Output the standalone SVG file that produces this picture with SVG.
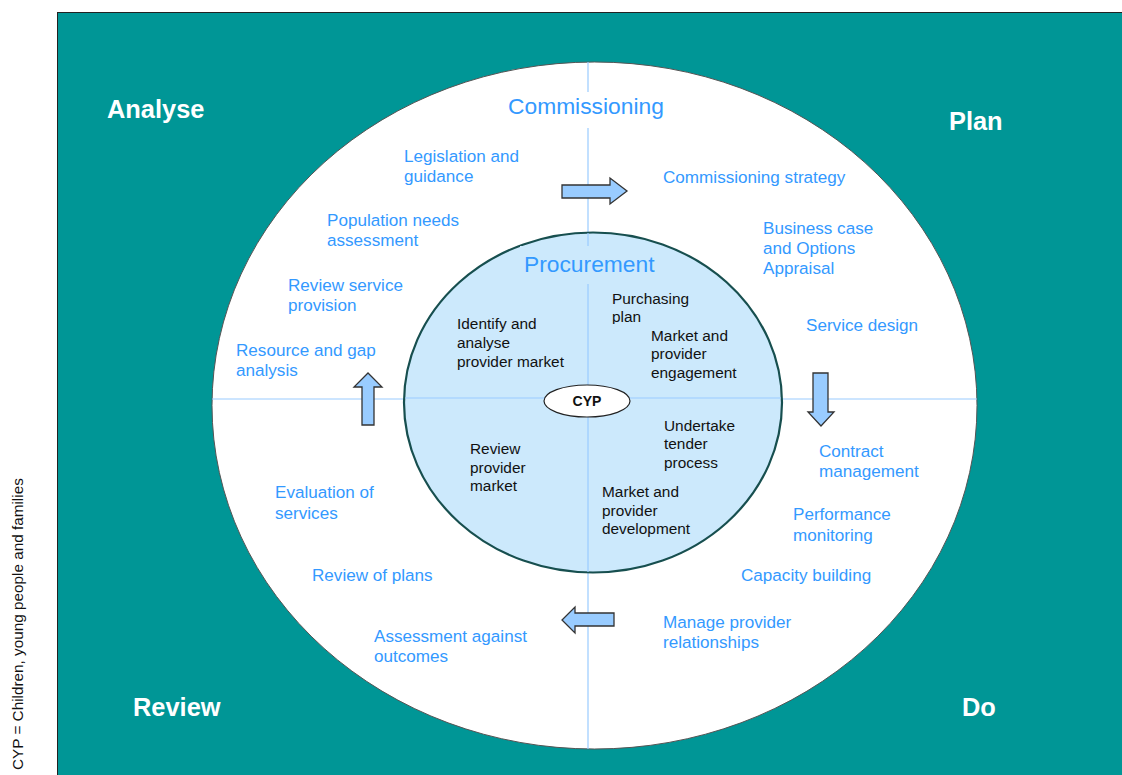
<svg xmlns="http://www.w3.org/2000/svg" width="1122" height="775" viewBox="0 0 1122 775">
<style>
.q{font-family:"Liberation Sans",Arial,sans-serif;font-weight:bold;font-size:25.4px;fill:#ffffff}
.t{font-family:"Liberation Sans",Arial,sans-serif;font-size:17.1px;fill:#3399ff}
.h{font-family:"Liberation Sans",Arial,sans-serif;font-size:22.8px;fill:#3399ff}
.k{font-family:"Liberation Sans",Arial,sans-serif;font-size:15.4px;fill:#111111}
.ln{stroke:#99ccff;stroke-width:1.2;fill:none}
.ar{fill:#99ccff;stroke:#333333;stroke-width:1.3;stroke-linejoin:miter}
</style>
<rect x="0" y="0" width="1122" height="775" fill="#ffffff"/>
<rect x="57.5" y="12.5" width="1070" height="770" fill="#009696" stroke="#222222" stroke-width="1"/>
<text transform="translate(23,770) rotate(-90)" style="font-family:'Liberation Sans',Arial,sans-serif;font-size:15.3px;fill:#111111">CYP = Children, young people and families</text>
<g id="outer-circle">
<ellipse cx="594.5" cy="405.5" rx="382.5" ry="343.5" fill="#ffffff" stroke="#555555" stroke-width="1"/>
</g>
<g id="connectors">
<line class="ln" x1="212" y1="399" x2="977" y2="399"/>
<line class="ln" x1="588" y1="62" x2="588" y2="749"/>
</g>
<g id="commissioning">
<rect x="505" y="92" width="164" height="36" fill="#ffffff"/>
<text class="h" x="508" y="114">Commissioning</text>
</g>
<g id="inner-circle">
<ellipse cx="593" cy="402.5" rx="189" ry="170" fill="#cce9fc" stroke="#174f4f" stroke-width="2.2"/>
<line class="ln" x1="405" y1="398" x2="781" y2="398"/>
<line class="ln" x1="588" y1="233" x2="588" y2="572"/>
<rect x="520" y="246" width="140" height="38" fill="#cce9fc"/>
<text class="h" x="524" y="272">Procurement</text>
</g>
<g id="analyse"><text class="q" x="107" y="118">Analyse</text></g>
<g id="plan"><text class="q" x="949" y="130">Plan</text></g>
<g id="review"><text class="q" x="133" y="716">Review</text></g>
<g id="do"><text class="q" x="962" y="716">Do</text></g>
<g id="legislation"><text class="t" x="404" y="162">Legislation and</text><text class="t" x="404" y="182">guidance</text></g>
<g id="population"><text class="t" x="327" y="226">Population needs</text><text class="t" x="327" y="246">assessment</text></g>
<g id="review-service"><text class="t" x="288" y="291">Review service</text><text class="t" x="288" y="311">provision</text></g>
<g id="resource"><text class="t" x="236" y="356">Resource and gap</text><text class="t" x="236" y="376">analysis</text></g>
<g id="commissioning-strategy"><text class="t" x="663" y="183">Commissioning strategy</text></g>
<g id="business-case"><text class="t" x="763" y="234">Business case</text><text class="t" x="763" y="254">and Options</text><text class="t" x="763" y="274">Appraisal</text></g>
<g id="service-design"><text class="t" x="806" y="331">Service design</text></g>
<g id="contract"><text class="t" x="819" y="457">Contract</text><text class="t" x="819" y="477">management</text></g>
<g id="performance"><text class="t" x="793" y="520">Performance</text><text class="t" x="793" y="541">monitoring</text></g>
<g id="capacity"><text class="t" x="741" y="581">Capacity building</text></g>
<g id="manage"><text class="t" x="663" y="628">Manage provider</text><text class="t" x="663" y="648">relationships</text></g>
<g id="assessment"><text class="t" x="374" y="642">Assessment against</text><text class="t" x="374" y="662">outcomes</text></g>
<g id="review-plans"><text class="t" x="312" y="581">Review of plans</text></g>
<g id="evaluation"><text class="t" x="275" y="498">Evaluation of</text><text class="t" x="275" y="519">services</text></g>
<g id="identify"><text class="k" x="457" y="329">Identify and</text><text class="k" x="457" y="348">analyse</text><text class="k" x="457" y="367">provider market</text></g>
<g id="purchasing"><text class="k" x="612" y="304">Purchasing</text><text class="k" x="612" y="322">plan</text></g>
<g id="engagement"><rect x="606" y="324" width="140" height="60" fill="#cce9fc"/><text class="k" x="651" y="341">Market and</text><text class="k" x="651" y="359">provider</text><text class="k" x="651" y="378">engagement</text></g>
<g id="tender"><text class="k" x="664" y="431">Undertake</text><text class="k" x="664" y="449">tender</text><text class="k" x="664" y="468">process</text></g>
<g id="review-provider"><text class="k" x="470" y="454">Review</text><text class="k" x="470" y="473">provider</text><text class="k" x="470" y="491">market</text></g>
<g id="development"><text class="k" x="602" y="497">Market and</text><text class="k" x="602" y="516">provider</text><text class="k" x="602" y="534">development</text></g>
<g id="cyp"><ellipse cx="587" cy="401" rx="43" ry="16" fill="#ffffff" stroke="#222222" stroke-width="1.2"/><text x="587" y="406" text-anchor="middle" style="font-family:'Liberation Sans',Arial,sans-serif;font-size:14px;font-weight:bold;fill:#111111">CYP</text></g>
<g id="arrows">
<polygon class="ar" points="562,185 610,185 610,178 627,191 610,204 610,198 562,198"/>
<polygon class="ar" points="813,373 828,373 828,412 834,412 821,426 808,412 813,412"/>
<polygon class="ar" points="362,425 362,387 354,387 368,373 382,387 374,387 374,425"/>
<polygon class="ar" points="614,613 575,613 575,607 562,620 575,633 575,626 614,626"/>
</g>
</svg>
